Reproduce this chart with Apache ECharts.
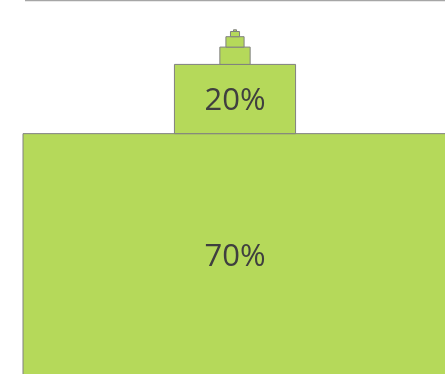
<!DOCTYPE html>
<html>
<head>
<meta charset="utf-8">
<script src="https://cdn.jsdelivr.net/npm/echarts@6/dist/echarts.min.js"></script>
<style>
  html, body { margin: 0; padding: 0; background: #ffffff; }
  #chart { width: 445px; height: 374px; }
</style>
</head>
<body>
<div id="chart"></div>
<script>
// Shares stacked from the base upward, largest first
const shares = [70, 20, 5, 3, 1.5, 0.5];
// Only blocks this large carry a percentage label
const labelMinShare = 10;

// Each block sits on top of the previous one: [share, bottom, top]
const blocks = [];
let base = 0;
shares.forEach(function (s) {
  blocks.push([s, base, base + s]);
  base += s;
});

const chart = echarts.init(document.getElementById('chart'), null, { renderer: 'canvas' });

chart.setOption({
  animation: false,
  grid: { left: 23, right: 0, top: 0, bottom: 0 },
  graphic: [{
    type: 'line',
    shape: { x1: 25, y1: 0.5, x2: 445, y2: 0.5 },
    style: { stroke: '#a6a6a6', lineWidth: 1.5 }
  }],
  // The base block runs a little past the right and bottom edges of the view
  xAxis: [{
    type: 'value', min: -35, max: 34.67,
    axisLine: { show: false }, axisTick: { show: false },
    axisLabel: { show: false }, splitLine: { show: false }
  }],
  yAxis: [{
    type: 'value', min: 0.58, max: 108.6,
    axisLine: { show: false }, axisTick: { show: false },
    axisLabel: { show: false }, splitLine: { show: false }
  }],
  series: [{
    type: 'custom',
    data: blocks,
    clip: false,
    renderItem: function (params, api) {
      const s = api.value(0);
      const lo = api.value(1);
      const hi = api.value(2);
      const p0 = api.coord([-s / 2, hi]);
      const p1 = api.coord([s / 2, lo]);
      const rect = {
        x: p0[0], y: p0[1],
        width: p1[0] - p0[0], height: p1[1] - p0[1]
      };
      const children = [{
        type: 'rect',
        shape: rect,
        style: { fill: '#b5d95a', stroke: '#808080', lineWidth: 1 }
      }];
      if (s >= labelMinShare) {
        children.push({
          type: 'text',
          style: {
            x: rect.x + rect.width / 2,
            y: rect.y + rect.height / 2 + 2,
            text: s + '%',
            fill: '#3f3f3f',
            font: '31px "Open Sans", sans-serif',
            align: 'center',
            verticalAlign: 'middle'
          }
        });
      }
      return { type: 'group', children: children };
    }
  }]
});
</script>
</body>
</html>
